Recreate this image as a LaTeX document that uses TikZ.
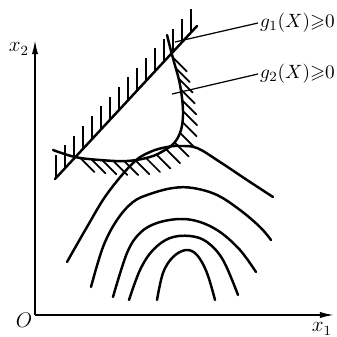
\documentclass[tikz,border=0pt]{standalone}
\usepackage{amsmath}
\usepackage{amssymb}
\usetikzlibrary{arrows.meta,calc,decorations.markings}

\begin{document}
\begin{tikzpicture}[x=0.02cm, y=-0.02cm,
  curve/.style={line width=1.4pt, line cap=round},
  axis/.style={line width=0.9pt, -{Latex[length=8pt,width=3.5pt]}},
  hatch/.style={line width=1pt},
  leader/.style={line width=0.7pt},
  lbl/.style={font=\large, inner sep=1pt},
  glbl/.style={font=\fontsize{11}{13}\selectfont, inner sep=1pt, anchor=west}]
\useasboundingbox (0,0) rectangle (336,337);
% axes
\coordinate (O) at (35,315);
\coordinate (xend) at (334,315);
\coordinate (yend) at (35,40);
\draw[axis] (O) -- (xend);
\draw[axis] (O) -- (yend);
\node[lbl] (olbl) at (24,320) {$O$};
\node[lbl] (x1lbl) at (322,329) {$x_1$};
\node[lbl] (x2lbl) at (19,49) {$x_2$};
% constraint g1: straight line, hatched above
\coordinate (p) at (55,179);
\coordinate (q) at (197,26);
\draw[curve] (p) -- (q);
\foreach \x [evaluate=\x as \t using (\x-55)/142] in {56,65,...,191}
  \draw[hatch] ($(p)!\t!(q)$) -- ++(0,-23);
% constraint g2: curve, hatched outside
\draw[curve, postaction={decorate}, decoration={markings,
    mark=between positions 0.12 and 0.91 step 0.22cm with
    {\pgftransformresetnontranslations \draw[hatch] (0,0) -- (14,14);}}]
  plot[smooth, tension=0.6] coordinates {(53,150) (75,157) (100,160) (127,161)
    (150,157) (165,150) (175,142) (181,130) (183,115) (182,98) (179,80)
    (174,62) (170,47) (167,35)};
% labels
\coordinate (g1pt) at (175,42);
\coordinate (g2pt) at (172,94);
\node[glbl] (g1lbl) at (258,23) {$g_1(X){\geqslant}0$};
\node[glbl] (g2lbl) at (258,74) {$g_2(X){\geqslant}0$};
\draw[leader] (g1pt) -- (g1lbl.west);
\draw[leader] (g2pt) -- (g2lbl.west);
% objective contours
\draw[curve] plot[smooth, tension=0.6] coordinates {(67,262) (87,227) (107,194)
  (133,163) (150,152) (167,147) (180,146) (197,148) (220,162)
  (247,180) (273,197)};
\draw[curve] plot[smooth, tension=0.6] coordinates {(91,287) (103,247) (117,220)
  (133,202) (150,194) (173,188) (193,188) (217,195) (240,210) (260,227) (271,240)};
\draw[curve] plot[smooth, tension=0.6] coordinates {(113,297) (127,253) (140,233)
  (157,223) (180,219) (200,222) (220,232) (240,250) (256,272)};
\draw[curve] plot[smooth, tension=0.6] coordinates {(129,300) (140,270) (153,250)
  (170,238) (190,236) (207,242) (223,260) (238,295)};
\draw[curve] plot[smooth, tension=0.6] coordinates {(157,300) (163,273) (173,257)
  (186,250) (197,255) (207,273) (215,300)};
\end{tikzpicture}
\end{document}
